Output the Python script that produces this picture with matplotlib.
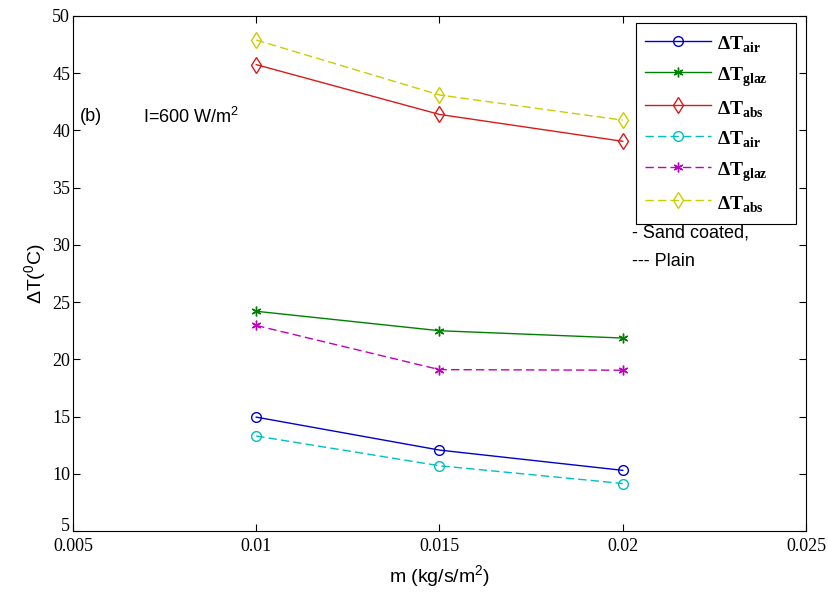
import matplotlib
matplotlib.use('Agg')
import matplotlib.pyplot as plt
import matplotlib.transforms as mtransforms

plt.rcParams['mathtext.fontset'] = 'custom'
plt.rcParams['mathtext.rm'] = 'Liberation Sans'
plt.rcParams['mathtext.bf'] = 'Liberation Serif:bold'

# data
m = [0.01, 0.015, 0.02]
air_sand = [14.95, 12.07, 10.3]
glaz_sand = [24.2, 22.5, 21.86]
abs_sand = [45.75, 41.4, 39.05]
air_plain = [13.3, 10.7, 9.15]
glaz_plain = [22.96, 19.1, 19.05]
abs_plain = [47.9, 43.1, 40.9]

# trailing spaces widen the legend box on the right like the original
lab_air = r'$\mathbf{\Delta T}_{\mathbf{air}}$' + '    '
lab_glaz = r'$\mathbf{\Delta T}_{\mathbf{glaz}}$' + '    '
lab_abs = r'$\mathbf{\Delta T}_{\mathbf{abs}}$' + '    '

fig = plt.figure(figsize=(8.29, 5.95), dpi=100)
ax = fig.add_axes([73/829, 1-531/595, (806-73)/829, (531-16)/595])

dash = (0, (6, 3))
star = (6, 2, 0)  # asterisk made of lines, like matlab '*'
ax.plot(m, air_sand, '-', color=(0, 0, 0.8), marker='o', mfc='none', ms=7, lw=1, label=lab_air)
ax.plot(m, glaz_sand, '-', color=(0, 0.5, 0), marker=star, ms=7, mew=1.0, lw=1, label=lab_glaz)
ax.plot(m, abs_sand, '-', color=(0.85, 0.1, 0.1), marker='d', mfc='none', ms=8, lw=1, label=lab_abs)
ax.plot(m, air_plain, ls=dash, color=(0, 0.75, 0.75), marker='o', mfc='none', ms=7, lw=1, label=lab_air)
ax.plot(m, glaz_plain, ls=dash, color=(0.75, 0, 0.75), marker=star, ms=7, mew=1.0, lw=1, label=lab_glaz)
ax.plot(m, abs_plain, ls=dash, color=(0.8, 0.8, 0), marker='d', mfc='none', ms=8, lw=1, label=lab_abs)

ax.set_xlim(0.005, 0.025)
ax.set_ylim(5, 50)
ax.set_xticks([0.005, 0.01, 0.015, 0.02, 0.025])
ax.set_xticklabels(['0.005', '0.01', '0.015', '0.02', '0.025'])
ax.set_yticks(range(5, 51, 5))
ax.tick_params(direction='in', top=True, right=True, length=5, labelsize=13)
ax.tick_params(axis='x', pad=5)
ax.tick_params(axis='y', pad=2)
for t in ax.get_xticklabels() + ax.get_yticklabels():
    t.set_family('Liberation Serif')
# the bottom y label sits a bit higher so it clears 0.005
lab5 = ax.get_yticklabels()[0]
lab5.set_transform(lab5.get_transform() + mtransforms.ScaledTranslation(0, 5/72, fig.dpi_scale_trans))

ax.set_xlabel(r'm (kg/s/m$^2$)', family='Liberation Sans', fontsize=14, labelpad=6)
ax.set_ylabel(r'$\Delta$T($^0$C)', family='Liberation Sans', fontsize=14, labelpad=2)

leg = ax.legend(loc='upper right', bbox_to_anchor=(796/829, 1-23/595), bbox_transform=fig.transFigure,
                fancybox=False, framealpha=1, edgecolor='black', handlelength=3.4,
                handleheight=1.5, handletextpad=0.3, labelspacing=0.36, borderpad=0.45,
                fontsize=14, borderaxespad=0)
leg.get_frame().set_linewidth(0.8)

ax.text(0.0052, 41.2, '(b)', family='Liberation Sans', fontsize=13, va='center')
ax.text(0.0069, 41.2, r'I=600 W/m$^2$', family='Liberation Sans', fontsize=13, va='center')

fig.text(632/829, 1-233/595, '- Sand coated,', family='Liberation Sans', fontsize=13, va='center')
fig.text(632/829, 1-262/595, '--- Plain', family='Liberation Sans', fontsize=13, va='center')

fig.savefig('out.png', dpi=100)
